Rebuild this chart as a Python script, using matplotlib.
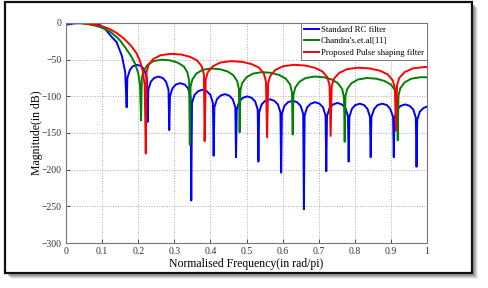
import numpy as np
import matplotlib
matplotlib.use('Agg')
import matplotlib.pyplot as plt
from matplotlib.patches import Rectangle

# Standard RC filter (blue)
rc_x = [0.0, 0.02, 0.04, 0.06, 0.08, 0.095, 0.11, 0.125, 0.14, 0.155, 0.164, 0.168,
        0.170, 0.177, 0.185, 0.197, 0.209, 0.217, 0.224, 0.226,
        0.228, 0.235, 0.244, 0.256, 0.268, 0.277, 0.284, 0.286,
        0.288, 0.295, 0.304, 0.316, 0.329, 0.338, 0.345, 0.347,
        0.349, 0.356, 0.366, 0.378, 0.390, 0.400, 0.407, 0.409,
        0.411, 0.418, 0.428, 0.440, 0.452, 0.462, 0.469, 0.471,
        0.473, 0.480, 0.490, 0.502, 0.514, 0.524, 0.531, 0.533,
        0.535, 0.542, 0.552, 0.565, 0.577, 0.587, 0.594, 0.596,
        0.598, 0.605, 0.615, 0.628, 0.640, 0.650, 0.657, 0.659,
        0.661, 0.668, 0.678, 0.690, 0.702, 0.712, 0.719, 0.721,
        0.723, 0.730, 0.740, 0.752, 0.764, 0.774, 0.781, 0.783,
        0.785, 0.792, 0.801, 0.814, 0.826, 0.835, 0.842, 0.844,
        0.846, 0.854, 0.863, 0.876, 0.889, 0.898, 0.906, 0.908,
        0.910, 0.917, 0.927, 0.940, 0.952, 0.962, 0.969, 0.971,
        0.973, 0.980, 0.990, 1.0]
rc_y = [-2.5, -0.7, 0, 0, -0.5, -3, -9, -18, -26, -45, -67, -115,
        -75, -64, -59, -57, -59, -64, -75, -135,
        -91, -80, -75, -73, -75, -80, -91, -146,
        -100, -89, -84, -82, -84, -89, -100, -242,
        -109, -98, -93, -91, -93, -98, -109, -181,
        -115, -104, -99, -97, -99, -104, -115, -183,
        -118, -107, -102, -100, -102, -107, -118, -189,
        -122, -111, -106, -104, -106, -111, -122, -204,
        -124, -113, -108, -106, -108, -113, -124, -254,
        -126, -115, -110, -108, -110, -115, -126, -202,
        -127, -116, -111, -109, -111, -116, -127, -189,
        -128, -117, -112, -110, -112, -117, -128, -183,
        -128, -117, -112, -110, -112, -117, -128, -183,
        -129, -118, -113, -111, -113, -118, -129, -196,
        -132, -121, -116, -114]

# Chandra's et al [11] (green)
ch_x = [0.0, 0.02, 0.04, 0.06, 0.08, 0.1, 0.12, 0.14, 0.15, 0.165, 0.18, 0.19, 0.2, 0.205, 0.208,
        0.210, 0.215, 0.226, 0.242, 0.265, 0.289, 0.309, 0.326, 0.336, 0.341, 0.343,
        0.345, 0.350, 0.361, 0.378, 0.401, 0.426, 0.447, 0.463, 0.474, 0.479, 0.481,
        0.483, 0.488, 0.500, 0.518, 0.543, 0.569, 0.591, 0.609, 0.621, 0.626, 0.628,
        0.630, 0.635, 0.647, 0.664, 0.689, 0.714, 0.736, 0.753, 0.765, 0.770, 0.772,
        0.774, 0.779, 0.791, 0.809, 0.834, 0.860, 0.882, 0.900, 0.912, 0.917, 0.919,
        0.921, 0.926, 0.938, 0.956, 0.981, 1.0]
ch_y = [-1, 0, -0.3, -1.5, -3.5, -6.5, -11, -19, -24, -34, -45, -54, -68, -85, -133,
        -75, -65, -57, -52, -50, -51, -54, -59, -67, -78, -166,
        -87, -77, -69, -64, -62, -63, -66, -71, -79, -90, -149,
        -92, -82, -74, -69, -67, -68, -71, -76, -84, -95, -152,
        -98, -88, -80, -75, -73, -74, -77, -82, -90, -101, -162,
        -100, -90, -82, -77, -75, -76, -79, -84, -92, -103, -160,
        -99, -89, -81, -76, -74, -74]

# Proposed pulse shaping filter (red)
pr_x = [0.0, 0.02, 0.04, 0.06, 0.08, 0.1, 0.12, 0.14, 0.16, 0.18, 0.195, 0.205, 0.213, 0.218, 0.221,
        0.223, 0.229, 0.242, 0.262, 0.290, 0.319, 0.343, 0.363, 0.376, 0.382, 0.384,
        0.387, 0.393, 0.407, 0.427, 0.457, 0.488, 0.514, 0.535, 0.548, 0.554, 0.557,
        0.560, 0.566, 0.580, 0.601, 0.631, 0.663, 0.689, 0.710, 0.724, 0.730, 0.733,
        0.736, 0.742, 0.757, 0.778, 0.809, 0.842, 0.869, 0.891, 0.905, 0.911, 0.914,
        0.917, 0.923, 0.938, 0.960, 0.992, 1.0]
pr_y = [-1, 0, -0.2, -1, -2.5, -4.5, -8, -13.5, -21, -31, -41, -52, -66, -85, -178,
        -67, -57, -49, -44, -42, -43, -46, -51, -59, -70, -161,
        -77, -67, -59, -54, -52, -53, -56, -61, -69, -80, -156,
        -82, -72, -64, -59, -57, -58, -61, -66, -74, -85, -154,
        -86, -76, -68, -63, -61, -62, -65, -70, -78, -89, -147,
        -85, -75, -67, -62, -60, -60]

x_ticks = [0, 0.1, 0.2, 0.3, 0.4, 0.5, 0.6, 0.7, 0.8, 0.9, 1]
x_tick_labels = ['0', '0.1', '0.2', '0.3', '0.4', '0.5', '0.6', '0.7', '0.8', '0.9', '1']
y_ticks = [0, -50, -100, -150, -200, -250, -300]

plt.rcParams['font.family'] = ['Liberation Serif', 'DejaVu Serif']

fig = plt.figure(figsize=(4.88, 2.88), dpi=100)
fig.patch.set_facecolor('white')

# рамка с тенью вокруг рисунка
W, H = 488.0, 288.0
for k, a in enumerate([0.10, 0.15, 0.22, 0.30]):
    off = 6 - k
    fig.patches.append(Rectangle(((5 + off) / W, 1 - (273 + off) / H), 467 / W, 271 / H,
                                 transform=fig.transFigure, facecolor='#555555', alpha=a,
                                 edgecolor='none', zorder=0))
fig.patches.append(Rectangle((5 / W, 1 - 273 / H), 467 / W, 271 / H,
                             transform=fig.transFigure, facecolor='white',
                             edgecolor='#111111', linewidth=1.6, zorder=1))

ax = fig.add_axes([66 / W, 1 - 243 / H, 361 / W, 220 / H])
ax.set_zorder(2)

ax.plot(rc_x, rc_y, color='#0000ff', lw=1.4, label='Standard RC filter')
ax.plot(ch_x, ch_y, color='#008000', lw=1.4, label="Chandra's.et.al[11]")
ax.plot(pr_x, pr_y, color='#ff0000', lw=1.4, label='Proposed Pulse shaping filter')

ax.set_xlim(0, 1)
ax.set_ylim(-300, 0)
ax.set_xticks(x_ticks)
ax.set_xticklabels(x_tick_labels)
ax.set_yticks(y_ticks)
ax.grid(True, linestyle=':', color='#aaaaaa', linewidth=0.7)
ax.tick_params(direction='in', length=3, width=0.6, labelsize=7, pad=3, colors='#333333')
for s in ax.spines.values():
    s.set_color('#777777')
    s.set_linewidth(0.8)

ax.set_xlabel('Normalised Frequency(in rad/pi)', fontsize=8.5, labelpad=1)
ax.set_ylabel('Magnitude(in dB)', fontsize=8.5, labelpad=-1)

leg = ax.legend(loc='upper right', fontsize=6.3, borderaxespad=0, handlelength=1.7,
                handletextpad=0.2, labelspacing=0.35, borderpad=0.35, fancybox=False,
                framealpha=1)
leg.get_frame().set_edgecolor('#666666')
leg.get_frame().set_linewidth(0.6)

plt.savefig('out.png', dpi=100)
